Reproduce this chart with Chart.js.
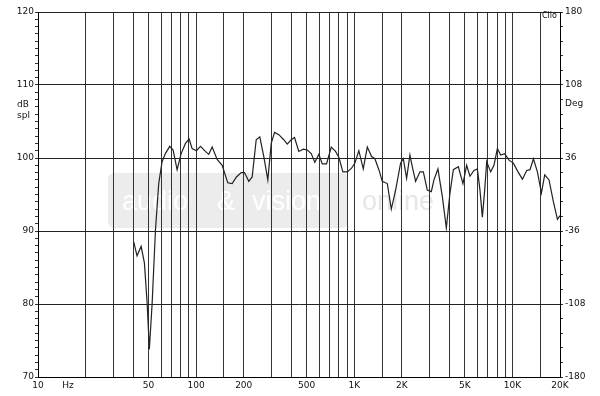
<!DOCTYPE html>
<html>
<head>
<meta charset="utf-8">
<script src="https://cdn.jsdelivr.net/npm/chart.js@4.4.1/dist/chart.umd.min.js"></script>
<style>
  html, body { margin: 0; padding: 0; background: #fff; }
  canvas { display: block; }
</style>
</head>
<body>
<canvas id="graf" width="600" height="396"></canvas>
<script>
// frekvens (Hz) og lydtryk (dB spl) aflæst fra kurven
var freqHz = [40.3, 42.3, 44.9, 47.1, 49.0, 50.6, 52.7, 55.3, 58.0, 60.9,
  63.9, 68.1, 71.5, 75.8, 80.4, 85.6, 90.3, 94.3, 100.4, 106.5,
  114.5, 120.2, 126.3, 135.8, 146.1, 158.5, 169.0, 179.9, 192.7, 202.2,
  215.3, 226.2, 239.8, 252.7, 267.9, 284.0, 298.5, 313.2, 333.4, 358.4,
  376.6, 399.3, 419.0, 446.1, 475.6, 504.2, 534.4, 563.3, 597.1, 627.5,
  667.9, 715.2, 761.5, 799.1, 847.1, 903.1, 961.4, 1009, 1069, 1140,
  1209, 1287, 1350, 1431, 1504, 1618, 1715, 1826, 1963, 2042,
  2143, 2249, 2329, 2443, 2602, 2734, 2897, 3071, 3190, 3382,
  3606, 3822, 4029, 4233, 4552, 4867, 5137, 5390, 5715, 6005,
  6236, 6458, 6679, 6876, 7290, 7646, 8036, 8433, 8939, 9517,
  10146, 10850, 11570, 12318, 12925, 13582, 14394, 15258, 16009, 17045,
  18174, 19268, 20000];

var splDb = [88.5, 86.6, 87.9, 85.6, 80.1, 73.8, 80.1, 90.1, 96.5, 99.5,
  100.6, 101.6, 101.1, 98.4, 100.6, 102.0, 102.6, 101.3, 101.0, 101.6,
  100.9, 100.5, 101.5, 99.8, 99.0, 96.6, 96.5, 97.4, 98.0, 98.0,
  96.8, 97.4, 102.5, 102.9, 100.2, 97.0, 102.0, 103.5, 103.2, 102.5,
  101.9, 102.5, 102.8, 100.9, 101.2, 101.1, 100.6, 99.4, 100.5, 99.2,
  99.2, 101.5, 100.9, 100.1, 98.1, 98.1, 98.6, 99.3, 101.0, 98.5,
  101.5, 100.2, 99.9, 98.4, 96.8, 96.5, 93.0, 95.6, 99.3, 99.9,
  97.2, 100.4, 98.8, 96.8, 98.1, 98.1, 95.6, 95.4, 97.0, 98.5,
  94.7, 90.4, 95.2, 98.4, 98.8, 96.5, 99.0, 97.5, 98.3, 98.5,
  95.6, 91.9, 95.6, 99.5, 98.1, 99.0, 101.3, 100.4, 100.6, 99.7,
  99.3, 98.1, 97.1, 98.3, 98.4, 99.9, 98.1, 95.2, 97.7, 97.0,
  94.0, 91.6, 92.1];

// gitterlinjer og tekst på frekvensaksen
var xGrid = [10, 15.5, 20, 30, 40, 50, 60, 70, 80, 90, 100, 150, 200, 300, 400, 500, 600, 700, 800, 900,
  1000, 1500, 2000, 3000, 4000, 5000, 6000, 7000, 8000, 9000, 10000, 15000, 20000];
var xLabelValues = [10, 15.5, 50, 100, 200, 500, 1000, 2000, 5000, 10000, 20000];
var xLabelTexts = ["10", "Hz", "50", "100", "200", "500", "1K", "2K", "5K", "10K", "20K"];

var splLabels = [70, 80, 90, 100, 110, 120];
var degLabels = [-180, -108, -36, 36, 108, 180];

var tickFont = { family: "DejaVu Sans", size: 9 };

var punkter = freqHz.map(function (f, i) { return { x: f, y: splDb[i] }; });

// vandmærke bag gitteret
var vandmaerke = {
  id: "vandmaerke",
  beforeDraw: function (chart) {
    var c = chart.ctx;
    c.save();
    c.fillStyle = "#ececec";
    c.beginPath();
    c.roundRect(108, 173, 240, 55, 6);
    c.fill();
    c.font = "27px 'Liberation Sans'";
    c.fillStyle = "#ffffff";
    c.textBaseline = "alphabetic";
    c.fillText("audio", 122, 210);
    c.fillText("&", 217, 210);
    c.fillText("vision", 252, 210, 86);
    c.fillStyle = "#e6e6e6";
    c.fillText("online", 362, 210, 108);
    c.restore();
  },
  afterDraw: function (chart) {
    var c = chart.ctx;
    var ys = chart.scales.y;
    var y110 = ys.getPixelForValue(110);
    c.save();
    c.font = "9px 'DejaVu Sans'";
    c.fillStyle = "#111";
    c.textBaseline = "middle";
    c.textAlign = "left";
    c.fillText("dB", 17, y110 + 20);
    c.fillText("spl", 17, y110 + 31);
    c.fillText("Deg", 565, y110 + 19);
    c.font = "8px 'DejaVu Sans'";
    c.fillText("Clio", 542, chart.chartArea.top + 4);
    c.restore();
  }
};

var graf = new Chart(document.getElementById("graf").getContext("2d"), {
  type: "line",
  data: {
    datasets: [
      {
        label: "SPL",
        data: punkter,
        borderColor: "#222",
        borderWidth: 1.2,
        pointRadius: 0,
        tension: 0,
        fill: false,
        yAxisID: "y",
      },
    ],
  },
  options: {
    responsive: false,
    animation: false,
    devicePixelRatio: 1,
    layout: { padding: { top: 12, left: 0, right: 0, bottom: 0 } },
    plugins: { legend: { display: false }, tooltip: { enabled: false } },
    scales: {
      x: {
        type: "logarithmic",
        min: 10,
        max: 20000,
        afterBuildTicks: function (scale) {
          scale.ticks = xGrid.map(function (v) { return { value: v }; });
        },
        afterFit: function (scale) { scale.height = 19; },
        ticks: {
          autoSkip: false,
          maxRotation: 0,
          padding: 3,
          color: "#111",
          font: tickFont,
          callback: function (value) {
            var i = xLabelValues.indexOf(value);
            return i >= 0 ? xLabelTexts[i] : "";
          },
        },
        grid: {
          drawTicks: false,
          lineWidth: 1,
          color: function (ctx) {
            return ctx.tick && ctx.tick.value === 15.5 ? "rgba(0,0,0,0)" : "#333";
          },
        },
        border: { color: "#000", width: 1 },
      },
      y: {
        position: "left",
        min: 70,
        max: 120,
        afterFit: function (scale) { scale.width = 38; },
        ticks: {
          stepSize: 1,
          autoSkip: false,
          padding: 1,
          color: "#111",
          font: tickFont,
          callback: function (value) {
            return splLabels.indexOf(value) >= 0 ? String(value) : "";
          },
        },
        grid: {
          tickLength: 3,
          tickColor: "#333",
          color: function (ctx) {
            return ctx.tick && splLabels.indexOf(ctx.tick.value) >= 0 ? "#222" : "rgba(0,0,0,0)";
          },
        },
        border: { color: "#000", width: 1 },
      },
      deg: {
        position: "right",
        min: -180,
        max: 180,
        afterFit: function (scale) { scale.width = 40; },
        ticks: {
          stepSize: 14.4,
          autoSkip: false,
          padding: 2,
          color: "#111",
          font: tickFont,
          callback: function (value) {
            var r = Math.round(value);
            return degLabels.indexOf(r) >= 0 && Math.abs(r - value) < 0.01 ? String(r) : "";
          },
        },
        grid: { drawOnChartArea: false, tickLength: 3, tickColor: "#333" },
        border: { color: "#000", width: 1 },
      },
    },
  },
  plugins: [vandmaerke],
});
</script>
</body>
</html>
